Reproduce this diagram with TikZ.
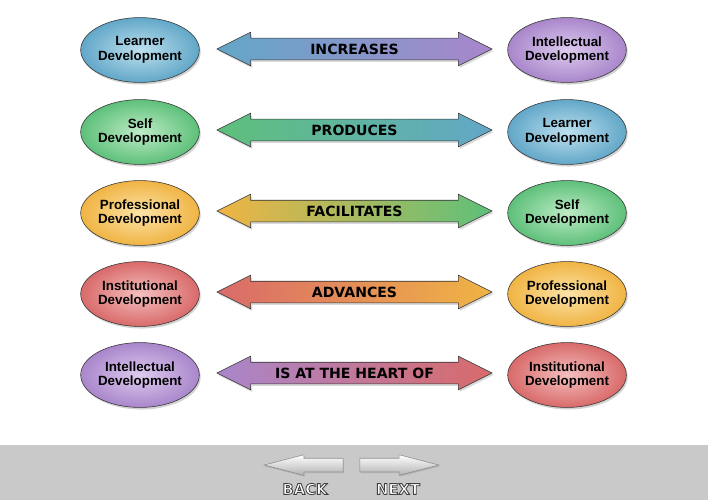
\documentclass[tikz,border=0pt]{standalone}
\usepackage{fontspec}
\setsansfont{Liberation Sans}
\newfontfamily\heavyfont{DejaVu Sans}
\usepackage{tikz}
\usetikzlibrary{shapes.geometric, shapes.arrows, shadows, positioning}

\definecolor{bluedev}{HTML}{62A7C8}
\definecolor{bluelight}{HTML}{BDE0EE}
\definecolor{greendev}{HTML}{5EC07A}
\definecolor{greenlight}{HTML}{BDEBC6}
\definecolor{orangedev}{HTML}{F0B444}
\definecolor{orangelight}{HTML}{FCE3A6}
\definecolor{reddev}{HTML}{D96A6A}
\definecolor{redlight}{HTML}{F4BFBF}
\definecolor{purpdev}{HTML}{A986CB}
\definecolor{purplight}{HTML}{DDCBEE}
\definecolor{navbar}{HTML}{C9C9C9}

\tikzset{
  devoval/.style={
    ellipse, draw=black!80, thin, align=center,
    minimum width=2.95cm, minimum height=1.62cm, inner sep=0pt,
    font=\sffamily\bfseries\fontsize{9.5}{10.5}\selectfont,
    drop shadow={opacity=0.35, shadow xshift=1pt, shadow yshift=-1.5pt}
  },
  linkarrow/.style={
    double arrow, draw=black!80, thin,
    minimum height=6.875cm, minimum width=0.825cm,
    text height=0.26cm, text depth=0cm, inner ysep=0.1325cm, inner xsep=0pt,
    double arrow head extend=0.15cm, double arrow tip angle=53,
    font=\heavyfont\bfseries\fontsize{10}{11}\selectfont,
    drop shadow={opacity=0.3, shadow xshift=1pt, shadow yshift=-1.5pt}
  },
  navarrow/.style={
    single arrow, draw=black!45, thin, anchor=tip,
    minimum height=1.975cm, minimum width=0.5cm,
    text height=0cm, text depth=0cm, inner ysep=0.1625cm, inner xsep=0pt,
    single arrow head extend=0.0875cm, single arrow tip angle=29,
    top color=white, bottom color=black!30,
    drop shadow={opacity=0.3, shadow xshift=0.5pt, shadow yshift=-1pt}
  },
  navlabel/.style={
    font=\heavyfont\bfseries\fontsize{10.5}{11}\selectfont, text=white
  },
}

% white letters with a thin dark outline
\newcommand{\navtext}[1]{\special{pdf:literal 2 Tr 0.6 w 0.25 G}#1\special{pdf:literal 0 Tr}}

\begin{document}
\begin{tikzpicture}[x=0.025cm, y=-0.025cm]
  \useasboundingbox (0,0) rectangle (708,500);
  \fill[white] (0,0) rectangle (708,500);

  % Nav bar
  \fill[navbar] (0,445) rectangle (708,500);

  % Row 1
  \node[devoval, inner color=bluelight, outer color=bluedev] (learnerL) at (140,50)
    {Learner\\Development};
  \node[linkarrow, left color=bluedev, right color=purpdev] (increases) at (354.5,49)
    {INCREASES};
  \node[devoval, inner color=purplight, outer color=purpdev] (intellR) at (567,50)
    {Intellectual\\Development};

  % Row 2
  \node[devoval, inner color=greenlight, outer color=greendev] (selfL) at (140,132)
    {Self\\Development};
  \node[linkarrow, left color=greendev, right color=bluedev] (produces) at (354.5,130)
    {PRODUCES};
  \node[devoval, inner color=bluelight, outer color=bluedev] (learnerR) at (567,132)
    {Learner\\Development};

  % Row 3
  \node[devoval, inner color=orangelight, outer color=orangedev] (profL) at (140,213)
    {Professional\\Development};
  \node[linkarrow, left color=orangedev, right color=greendev] (facilitates) at (354.5,211)
    {FACILITATES};
  \node[devoval, inner color=greenlight, outer color=greendev] (selfR) at (567,213)
    {Self\\Development};

  % Row 4
  \node[devoval, inner color=redlight, outer color=reddev] (instL) at (140,294)
    {Institutional\\Development};
  \node[linkarrow, left color=reddev, right color=orangedev] (advances) at (354.5,292)
    {ADVANCES};
  \node[devoval, inner color=orangelight, outer color=orangedev] (profR) at (567,294)
    {Professional\\Development};

  % Row 5
  \node[devoval, inner color=purplight, outer color=purpdev] (intellL) at (140,375)
    {Intellectual\\Development};
  \node[linkarrow, left color=purpdev, right color=reddev] (heart) at (354.5,373)
    {IS AT THE HEART OF};
  \node[devoval, inner color=redlight, outer color=reddev] (instR) at (567,375)
    {Institutional\\Development};

  % Back / next
  \node[navarrow, shape border rotate=180] (back) at (263,465) {};
  \node[navarrow] (next) at (440,465) {};
  \node[navlabel] (backlbl) at (305,489) {\navtext{BACK}};
  \node[navlabel] (nextlbl) at (398,489) {\navtext{NEXT}};
\end{tikzpicture}
\end{document}
